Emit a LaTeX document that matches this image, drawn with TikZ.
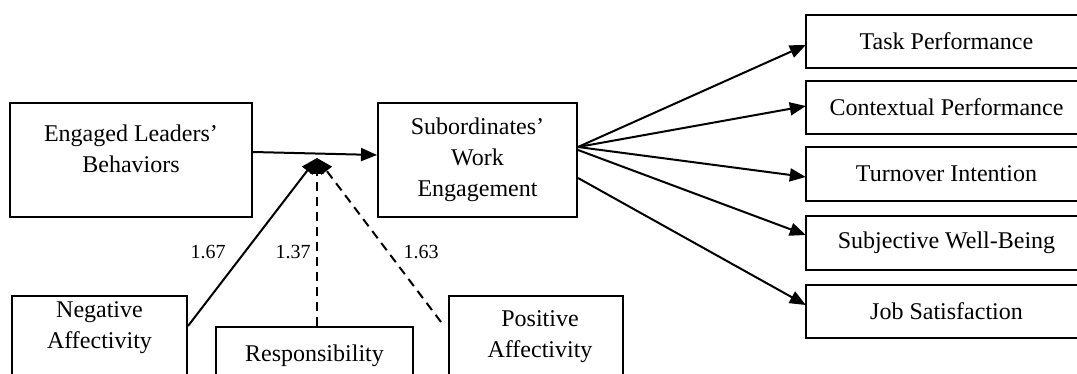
\documentclass[tikz,border=0pt]{standalone}
\usepackage{fontspec}
\setmainfont{Liberation Serif}
\usetikzlibrary{arrows.meta}
\begin{document}
\begin{tikzpicture}[x=1pt,y=-1pt,
  box/.style={draw, line width=2pt, inner sep=0pt},
  boxline/.style={line width=2pt},
  txt/.style={font=\fontsize{24}{31}\selectfont, align=center, inner sep=0pt},
  lbl/.style={font=\fontsize{20}{24}\selectfont, inner sep=0pt},
  arr/.style={line width=2pt, -{Triangle[length=16pt,width=13pt]}},
  dsh/.style={dash pattern=on 9pt off 6pt}]
\useasboundingbox (0,0) rectangle (1077,374);
\clip (0,0) rectangle (1077,374);
% left / centre boxes
\node[box, minimum width=242pt, minimum height=114pt] (eng) at (131,160) {};
\node[txt] (engt) at (131,149) {Engaged Leaders’\\Behaviors};
\node[box, txt, minimum width=199pt, minimum height=114pt] (sub) at (477.5,160) {Subordinates’\\Work\\Engagement};
% right boxes (their right side runs past the picture's edge)
\node[txt, minimum width=281pt, minimum height=53pt] (task) at (946.5,41.5) {Task Performance};
\node[txt, minimum width=281pt, minimum height=53pt] (ctx) at (946.5,107.5) {Contextual Performance};
\node[txt, minimum width=281pt, minimum height=53pt] (turn) at (946.5,174) {Turnover Intention};
\node[txt, minimum width=281pt, minimum height=53pt] (swb) at (946.5,243) {Subjective Well-Being};
\node[txt, minimum width=281pt, minimum height=53pt] (job) at (946.5,311.5) {Job Satisfaction};
\foreach \n in {task,ctx,turn,swb,job}
  \draw[boxline] ([xshift=40pt]\n.north east) -- (\n.north west) -- (\n.south west) -- ([xshift=40pt]\n.south east);
% bottom boxes
\node[box, minimum width=175pt, minimum height=120pt] (neg) at (99.5,356) {};
\node[txt] (negt) at (99.5,328) {Negative\\Affectivity};
\node[box, minimum width=197pt, minimum height=120pt] (resp) at (314.5,387) {};
\node[txt] (respt) at (314.5,356) {Responsibility};
\node[box, minimum width=174pt, minimum height=120pt] (pos) at (536,356) {};
\node[txt] (post) at (540,337) {Positive\\Affectivity};
% junction
\coordinate (J) at (317,158);
% connectors
\draw[arr] ([yshift=8pt]eng.east) -- ([yshift=5pt]sub.west);
\draw[arr] ([yshift=-31pt]neg.north east) -- (J);
\draw[arr,dsh] (resp.north -| J) -- (J);
\draw[arr,dsh] ([xshift=-7pt,yshift=-27pt]pos.north west) -- (J);
\draw[arr] ([yshift=13pt]sub.east) -- ([yshift=-3.5pt]task.west);
\draw[arr] ([yshift=13pt]sub.east) -- ([yshift=1.5pt]ctx.west);
\draw[arr] ([yshift=13pt]sub.east) -- ([yshift=-3pt]turn.west);
\draw[arr] ([yshift=10pt]sub.east) -- ([yshift=8pt]swb.west);
\draw[arr] ([yshift=-18pt]sub.east) -- ([yshift=6.5pt]job.west);
% labels
\node[lbl] (l1) at (208,252) {1.67};
\node[lbl] (l2) at (293,252) {1.37};
\node[lbl] (l3) at (421,252) {1.63};
\end{tikzpicture}
\end{document}
